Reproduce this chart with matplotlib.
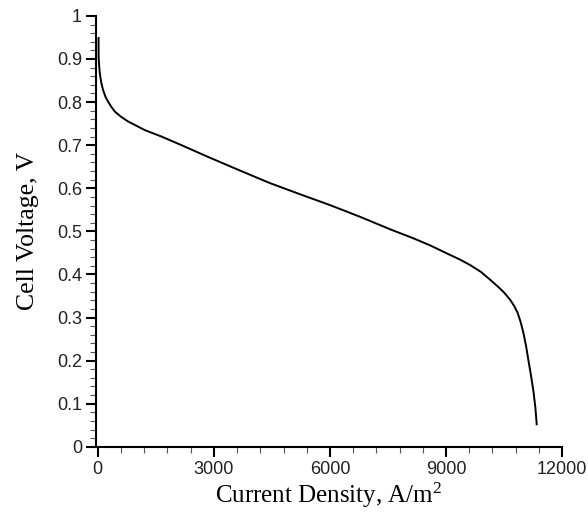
import matplotlib
matplotlib.use("Agg")
import matplotlib.pyplot as plt
from matplotlib.ticker import MultipleLocator

plt.rcParams["mathtext.fontset"] = "custom"
plt.rcParams["mathtext.rm"] = "Liberation Serif"
plt.rcParams["mathtext.it"] = "Liberation Serif:italic"

# polarization curve
current_density = [20, 22, 35, 52, 90, 137, 200, 267, 350, 440, 600, 784, 1000, 1215,
                   1647, 2164, 2870, 3600, 4448, 5200, 6000, 6800, 7550, 8154, 8600,
                   9017, 9350, 9620, 9900, 10137, 10350, 10500, 10650, 10760, 10850,
                   10930, 11000, 11070, 11130, 11200, 11260, 11310, 11345]
cell_voltage = [0.951, 0.905, 0.885, 0.867, 0.845, 0.828, 0.812, 0.801, 0.789, 0.778,
                0.766, 0.755, 0.745, 0.735, 0.720, 0.700, 0.672, 0.644, 0.612, 0.587,
                0.561, 0.533, 0.505, 0.484, 0.467, 0.449, 0.435, 0.422, 0.406, 0.388,
                0.371, 0.358, 0.342, 0.327, 0.311, 0.289, 0.264, 0.233, 0.200, 0.163,
                0.128, 0.090, 0.050]

x_ticks = [0, 3000, 6000, 9000, 12000]
y_ticks = [0, 0.1, 0.2, 0.3, 0.4, 0.5, 0.6, 0.7, 0.8, 0.9, 1]
y_tick_labels = ["0", "0.1", "0.2", "0.3", "0.4", "0.5", "0.6", "0.7", "0.8", "0.9", "1"]

fig = plt.figure(figsize=(5.88, 5.13), dpi=100)
ax = fig.add_axes([0.163, 0.129, 0.793, 0.840])

ax.plot(current_density, cell_voltage, color="black", lw=1.4,
        solid_joinstyle="round", solid_capstyle="butt")

ax.set_xlim(-50, 12000)
ax.set_ylim(0, 1)
ax.set_xticks(x_ticks)
ax.set_yticks(y_ticks)
ax.set_yticklabels(y_tick_labels)
ax.xaxis.set_minor_locator(MultipleLocator(600))
ax.yaxis.set_minor_locator(MultipleLocator(0.02))

for side in ["top", "right"]:
    ax.spines[side].set_visible(False)
for side in ["left", "bottom"]:
    ax.spines[side].set_linewidth(1.5)

ax.tick_params(which="major", direction="out", length=7, width=1.5,
               labelsize=13, labelcolor="#222222", pad=3)
ax.tick_params(which="minor", direction="out", length=4, width=0.8, color="#555555")
for lab in ax.get_xticklabels() + ax.get_yticklabels():
    lab.set_family("Liberation Sans")

ax.set_xlabel("Current Density, A/m$^2$", family="Liberation Serif", fontsize=18, labelpad=2)
ax.set_ylabel("Cell Voltage, V", family="Liberation Serif", fontsize=18.5, labelpad=13)

fig.savefig("out.png", dpi=100)
